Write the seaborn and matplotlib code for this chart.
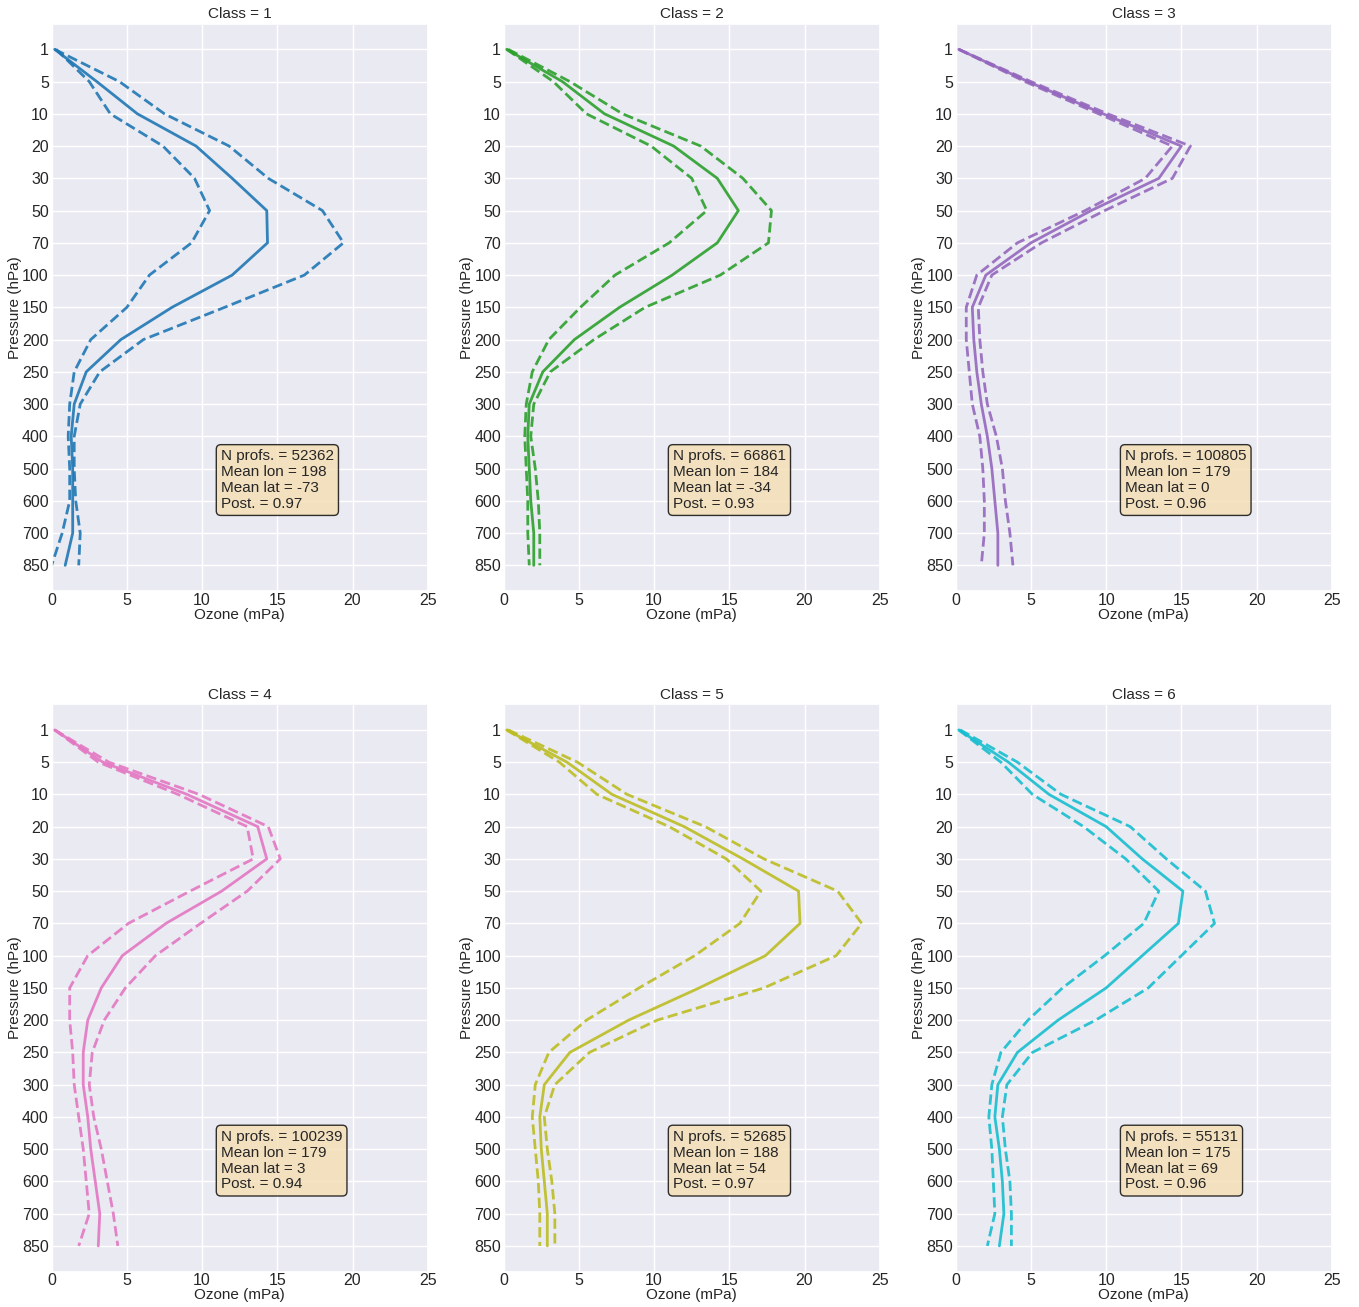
import numpy as np
import pandas as pd
import seaborn as sns
import matplotlib.pyplot as plt

# Niveis de pressao (hPa), de cima para baixo
niveis = [1, 5, 10, 20, 30, 50, 70, 100, 150, 200, 250, 300, 400, 500, 600, 700, 850]

classes = [1, 2, 3, 4, 5, 6]
cores = ["#1f77b4", "#2ca02c", "#9467bd", "#e377c2", "#bcbd22", "#17becf"]

# Ozonio medio por classe (mPa)
media_1 = [0.2, 3.0, 5.7, 9.6, 12.0, 14.3, 14.35, 12.0, 8.0, 4.6, 2.3, 1.5, 1.3, 1.4, 1.4, 1.4, 0.9]
media_2 = [0.2, 3.9, 6.7, 11.3, 14.2, 15.6, 14.2, 11.2, 7.7, 4.7, 2.6, 1.7, 1.6, 1.7, 1.8, 2.0, 2.0]
media_3 = [0.2, 4.8, 9.8, 15.0, 13.5, 9.0, 5.0, 2.0, 1.1, 1.2, 1.4, 1.7, 2.1, 2.4, 2.6, 2.8, 2.8]
media_4 = [0.2, 3.4, 9.0, 13.7, 14.3, 11.3, 7.6, 4.7, 3.3, 2.4, 2.1, 2.1, 2.4, 2.6, 2.9, 3.2, 3.1]
media_5 = [0.2, 4.2, 7.2, 12.0, 15.9, 19.6, 19.7, 17.4, 13.0, 8.3, 4.4, 2.7, 2.4, 2.5, 2.7, 2.9, 2.9]
media_6 = [0.2, 3.5, 6.2, 10.0, 12.4, 15.1, 14.8, 12.4, 10.0, 6.8, 4.1, 2.8, 2.6, 2.9, 3.1, 3.2, 2.9]

# Limite inferior (tracejado)
inf_1 = [0.3, 2.5, 3.9, 7.4, 9.5, 10.5, 9.3, 6.5, 5.0, 2.6, 1.5, 1.2, 1.1, 1.2, 1.2, 0.7, 0.0]
inf_2 = [0.2, 3.3, 5.5, 9.8, 12.5, 13.5, 11.0, 7.4, 5.1, 3.0, 1.9, 1.5, 1.4, 1.5, 1.6, 1.6, 1.7]
inf_3 = [0.2, 4.6, 9.5, 14.4, 12.6, 8.6, 4.1, 1.4, 0.7, 0.7, 0.9, 1.1, 1.6, 1.8, 1.9, 1.9, 1.7]
inf_4 = [0.2, 3.1, 8.4, 13.0, 13.4, 9.2, 5.1, 2.4, 1.2, 1.2, 1.4, 1.5, 1.8, 2.1, 2.3, 2.5, 1.8]
inf_5 = [0.2, 3.7, 6.2, 11.0, 14.8, 17.1, 15.7, 12.7, 9.0, 5.5, 3.0, 2.1, 1.9, 2.1, 2.3, 2.4, 2.4]
inf_6 = [0.2, 3.0, 5.1, 8.5, 11.3, 13.5, 12.5, 9.9, 7.1, 4.8, 3.0, 2.4, 2.2, 2.4, 2.5, 2.6, 2.1]

# Limite superior (tracejado)
sup_1 = [0.2, 4.5, 7.5, 11.8, 14.4, 18.0, 19.4, 16.8, 11.5, 6.1, 3.2, 1.9, 1.5, 1.5, 1.6, 1.9, 1.8]
sup_2 = [0.3, 4.4, 7.9, 13.1, 15.9, 17.8, 17.6, 14.4, 9.4, 6.0, 3.1, 2.0, 1.8, 2.1, 2.3, 2.4, 2.4]
sup_3 = [0.2, 5.0, 10.1, 15.6, 14.4, 9.9, 5.7, 2.4, 1.5, 1.6, 1.8, 2.1, 2.7, 3.1, 3.3, 3.6, 3.8]
sup_4 = [0.2, 3.8, 9.8, 14.4, 15.2, 13.0, 9.9, 6.9, 4.9, 3.5, 2.7, 2.5, 2.8, 3.3, 3.7, 4.1, 4.4]
sup_5 = [0.3, 4.9, 8.2, 13.4, 17.3, 22.2, 23.8, 22.1, 17.3, 10.2, 5.7, 3.4, 2.7, 2.9, 3.2, 3.4, 3.4]
sup_6 = [0.3, 4.1, 7.0, 11.6, 14.0, 16.6, 17.2, 15.0, 12.8, 9.3, 5.1, 3.4, 3.1, 3.3, 3.6, 3.7, 3.7]

# Estatisticas de cada classe
n_profs = [52362, 66861, 100805, 100239, 52685, 55131]
mean_lon = [198, 184, 179, 179, 188, 175]
mean_lat = [-73, -34, 0, 3, 54, 69]
post = [0.97, 0.93, 0.96, 0.94, 0.97, 0.96]

medias = [media_1, media_2, media_3, media_4, media_5, media_6]
inferiores = [inf_1, inf_2, inf_3, inf_4, inf_5, inf_6]
superiores = [sup_1, sup_2, sup_3, sup_4, sup_5, sup_6]

sns.set_theme(style="darkgrid")
plt.rcParams["font.family"] = ["Arial", "Liberation Sans", "DejaVu Sans"]

fig, axes = plt.subplots(2, 3, figsize=(13.59, 13.07), dpi=100)
fig.subplots_adjust(left=0.038, right=0.980, bottom=0.027, top=0.982,
                    wspace=0.202, hspace=0.199)

idx = np.arange(len(niveis))

for i, ax in enumerate(axes.flat):
    cor = cores[i]
    df = pd.DataFrame({"idx": idx, "media": medias[i],
                       "inf": inferiores[i], "sup": superiores[i]})
    sns.lineplot(data=df, x="media", y="idx", ax=ax, color=cor, lw=2,
                 alpha=0.9, sort=False, estimator=None, orient="y")
    sns.lineplot(data=df, x="inf", y="idx", ax=ax, color=cor, lw=2,
                 alpha=0.9, sort=False, estimator=None, orient="y", linestyle="--")
    sns.lineplot(data=df, x="sup", y="idx", ax=ax, color=cor, lw=2,
                 alpha=0.9, sort=False, estimator=None, orient="y", linestyle="--")

    ax.set_xlim(0, 25)
    ax.set_xticks([0, 5, 10, 15, 20, 25])
    ax.set_ylim(16.8, -0.8)
    ax.set_yticks(idx)
    ax.set_yticklabels([str(n) for n in niveis])
    ax.set_xlabel("Ozone (mPa)", fontsize=11, labelpad=0)
    ax.set_ylabel("Pressure (hPa)", fontsize=11, labelpad=0)
    ax.set_title(f"Class = {classes[i]}", fontsize=11, pad=4)
    ax.tick_params(axis="x", labelsize=11.5, length=0, pad=1)
    ax.tick_params(axis="y", labelsize=11.5, length=0, pad=2)

    txt = (f"N profs. = {n_profs[i]}\nMean lon = {mean_lon[i]}\n"
           f"Mean lat = {mean_lat[i]}\nPost. = {post[i]:.2f}")
    ax.text(0.45, 0.25, txt, transform=ax.transAxes, fontsize=11,
            va="top", ha="left", linespacing=1.17,
            bbox=dict(boxstyle="round,pad=0.3", facecolor="wheat", alpha=0.8,
                      edgecolor="black"))

plt.savefig("out.png", dpi=100)
